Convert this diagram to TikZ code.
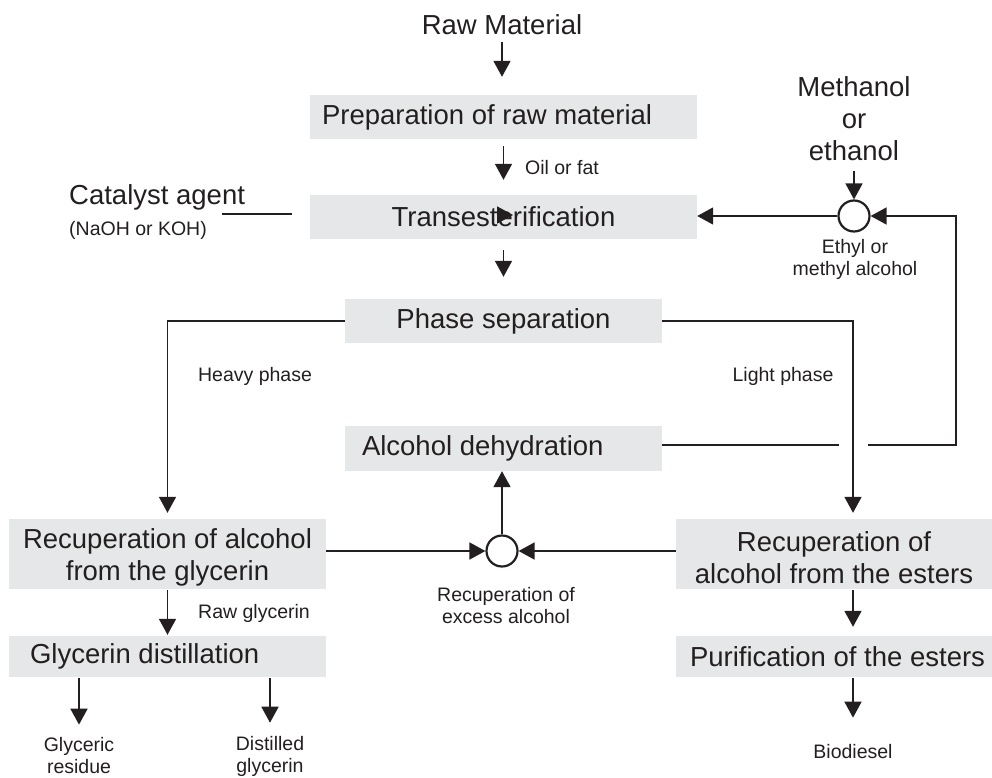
\documentclass[tikz,border=0pt]{standalone}
\usepackage{fontspec}
\setmainfont{Liberation Sans}
\usetikzlibrary{arrows.meta,calc}
\definecolor{boxgray}{HTML}{E6E7E8}
\definecolor{ink}{HTML}{231F20}
\newcommand{\fbig}{\fontsize{27.5}{32}\selectfont}
\newcommand{\fsmall}{\fontsize{19.5}{22}\selectfont}
\begin{document}
\begin{tikzpicture}[x=1pt,y=-1pt,
  box/.style={fill=boxgray, inner ysep=0pt, text=ink, font=\fbig},
  lbl/.style={text=ink, font=\fsmall, align=center, inner sep=0pt},
  arr/.style={draw=ink, line width=1.7pt, -{Triangle[length=16pt,width=17pt]}},
  ln/.style={draw=ink, line width=1.7pt},
  junc/.style={circle, draw=ink, line width=2.2pt, fill=white, minimum size=31pt, inner sep=0pt}]
\useasboundingbox (0,0) rectangle (992,778);

% boxes
\node[lbl, font=\fbig] (raw) at (502,25) {Raw Material};
\node[box, inner xsep=12pt, minimum height=44pt] (prep) at (503.5,117) {\makebox[363pt][l]{Preparation of raw material}};
\node[box, minimum width=387pt, minimum height=44pt, inner xsep=0pt] (trans) at (503.5,217) {Transesterification};
\node[box, minimum width=317pt, minimum height=44pt, inner xsep=0pt] (phase) at (503.5,321) {Phase separation};
\node[box, inner xsep=17pt, minimum height=45pt] (dehyd) at (503.5,448.5) {\makebox[283pt][l]{Alcohol dehydration}};
\node[box, minimum width=317pt, minimum height=70pt, align=center, inner xsep=0pt] (recgly) at (167.5,554) {\rule{0pt}{27pt}Recuperation of alcohol\\from the glycerin};
\node[box, minimum width=316pt, minimum height=70pt, align=center, inner xsep=0pt] (recest) at (834,554) {\rule{0pt}{27pt}Recuperation of\\alcohol from the esters};
\node[box, inner xsep=21pt, minimum height=41pt] (gdist) at (167.5,656.5) {\makebox[275pt][l]{Glycerin distillation}};
\node[box, inner xsep=14pt, minimum height=41pt] (purif) at (834,656.5) {\makebox[288pt][l]{Purification of the esters}};

% labels
\node[lbl, font=\fbig, anchor=west] (cat) at (69,197) {Catalyst agent};
\node[lbl, anchor=west] (catsub) at (69,230) {(NaOH or KOH)};
\node[lbl, font=\fbig] (meth) at (854,119) {Methanol\\or\\ethanol};
\node[junc] (alc1) at (854,216) {};
\node[lbl] (ethyl) at (855,259) {Ethyl or\\methyl alcohol};
\node[lbl] (oil) at (562,168) {Oil or fat};
\node[lbl] (heavy) at (255,376) {Heavy phase};
\node[lbl] (light) at (783,376) {Light phase};
\node[junc] (alc2) at (502,551) {};
\node[lbl] (exc) at (506,606) {Recuperation of\\excess alcohol};
\node[lbl] (rawg) at (254,613) {Raw glycerin};
\node[lbl] (resid) at (79,756) {Glyceric\\residue};
\node[lbl] (distg) at (270,756) {Distilled\\glycerin};
\node[lbl] (bio) at (853,752) {Biodiesel};

% coordinates
\coordinate (catend) at (222,214);
\coordinate (hy) at (0,445);
\coordinate (gapL) at (839,445);
\coordinate (gapR) at (868,445);
\coordinate (loopc) at (956,445);
\coordinate (lightx) at (853,0);

% connectors
\draw[arr, shorten <=7pt, shorten >=18pt] (raw.south) -- (raw.south |- prep.north);
\draw[arr, shorten <=7pt, shorten >=15pt] (prep.south) -- (trans.north);
\draw[arr, shorten <=11pt, shorten >=22pt] (trans.south) -- (phase.north);
\draw[ln, shorten >=18pt] (catend) -- (catend -| trans.west);
\draw[arr] ($(trans.center)+(-7,-2)$) -- ($(trans.center)+(9.5,-2)$);
\draw[arr, shorten <=10pt] (meth.south) -- (alc1.north);
\draw[arr] (alc1.west) -- (alc1.west -| trans.east);
\draw[ln] (dehyd.east |- hy) -- (gapL);
\draw[arr] (gapR) -- (loopc) |- (alc1.east);
\draw[arr, shorten >=6pt] (phase.west) -| (recgly.north);
\draw[arr, shorten >=6pt] (phase.east) -| (lightx |- recest.north);
\draw[arr] (alc2.north) -- (alc2.north |- dehyd.south);
\draw[arr] (recgly.east |- alc2) -- (alc2.west);
\draw[arr] (recest.west |- alc2) -- (alc2.east);
\draw[arr, shorten <=1pt, shorten >=1pt] (recgly.south) -- (gdist.north);
\draw[arr, shorten <=1pt, shorten >=13pt] (gdist.south -| resid.north) -- (resid.north);
\draw[arr, shorten <=1pt, shorten >=13pt] (gdist.south -| distg.north) -- (distg.north);
\draw[arr, shorten <=1pt, shorten >=9pt] (recest.south -| lightx) -- (purif.north -| lightx);
\draw[arr, shorten <=1pt, shorten >=27pt] (purif.south -| lightx) -- (lightx |- bio.north);
\end{tikzpicture}
\end{document}
